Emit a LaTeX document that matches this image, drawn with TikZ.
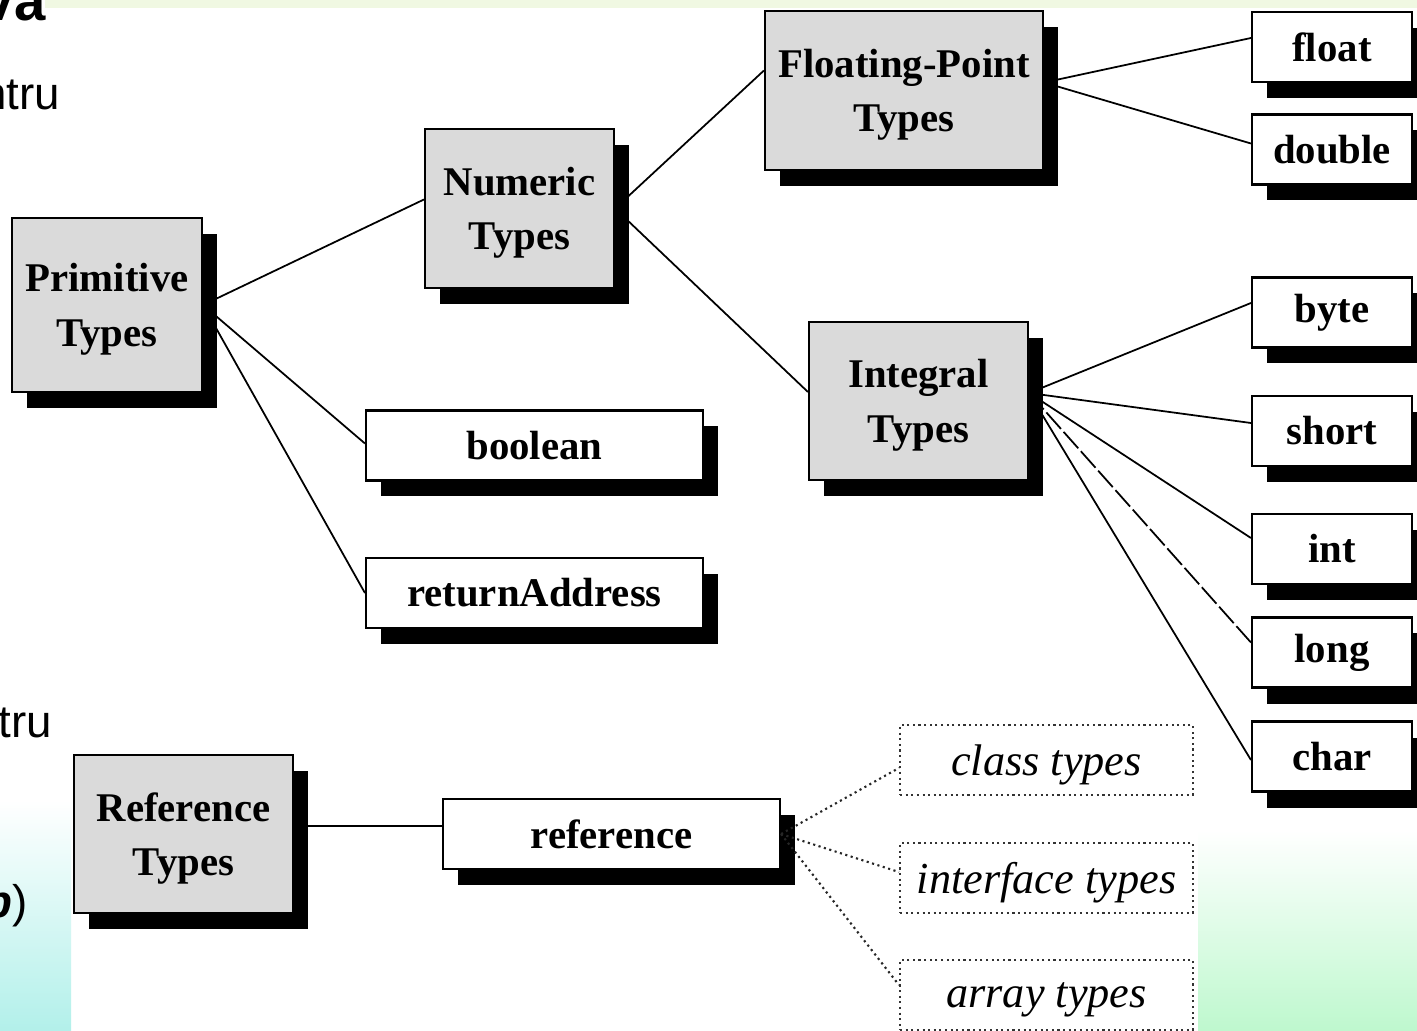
\documentclass[tikz,border=0pt]{standalone}
\usepackage{fontspec}
\setmainfont{Liberation Serif}
\setsansfont{Liberation Sans}
\usepackage{tikz}
\usetikzlibrary{shadows, positioning, calc}
\definecolor{boxgrey}{RGB}{218,218,218}
\definecolor{bandgreen}{RGB}{240,248,226}
\definecolor{cornergreen}{RGB}{190,248,206}
\definecolor{cornercyan}{RGB}{178,240,234}
\tikzset{
  typebox/.style={rectangle, draw=black, fill=boxgrey, line width=0.6pt,
    align=center, inner sep=0pt, text depth=0pt,
    font=\fontsize{11.6}{15.5}\selectfont\bfseries,
    drop shadow={shadow xshift=0.15cm, shadow yshift=-0.16cm, opacity=1, fill=black}},
  leafbox/.style={rectangle, draw=black, fill=white, line width=0.6pt,
    align=center, inner sep=0pt, minimum height=0.70cm,
    font=\fontsize{11.6}{15.5}\selectfont\bfseries,
    drop shadow={shadow xshift=0.15cm, shadow yshift=-0.16cm, opacity=1, fill=black}},
  dotbox/.style={rectangle, draw=black!80, densely dotted, line width=0.6pt,
    fill=white, inner sep=0pt, minimum width=2.93cm, minimum height=0.70cm,
    text depth=0pt, font=\fontsize{12.6}{15}\selectfont\itshape},
  link/.style={line width=0.5pt, color=black},
  dashlink/.style={link, dash pattern=on 0.22cm off 0.04cm},
  dotlink/.style={line width=0.6pt, densely dotted, color=black!85},
  slidetext/.style={anchor=base east, inner sep=0pt,
    font=\sffamily\fontsize{13}{13}\selectfont}
}

\begin{document}
\begin{tikzpicture}
  \useasboundingbox (0,0) rectangle (14.17,-10.31);
  \clip (0,0) rectangle (14.17,-10.31);

  % slide background
  \fill[white] (0,0) rectangle (14.17,-10.31);
  \fill[bandgreen] (0.45,0) rectangle (14.17,-0.08);
  \shade[top color=white, bottom color=cornercyan] (0,-8.0) rectangle (0.71,-10.31);
  \shade[top color=white, bottom color=cornergreen] (11.98,-8.3) rectangle (14.17,-10.31);

  % slide text behind the picture
  \node[slidetext, font=\sffamily\fontsize{16}{16}\selectfont\bfseries] (title) at (0.46,-0.205) {va};
  \node[slidetext] (frag1) at (0.61,-1.10) {ntru};
  \node[slidetext] (frag2) at (0.53,-7.37) {tru};
  \node[slidetext] (frag3) at (0.28,-9.17) {\textbf{\textit{p}})};

  % primitive types
  \node[typebox, minimum width=1.90cm, minimum height=1.74cm] (prim) at (1.07,-3.05) {Primitive\\Types};
  \node[typebox, minimum width=1.89cm, minimum height=1.59cm] (num) at (5.195,-2.085) {Numeric\\Types};
  \node[leafbox, minimum width=3.37cm] (bool) at (5.345,-4.455) {boolean};
  \node[leafbox, minimum width=3.37cm] (retaddr) at (5.345,-5.93) {returnAddress};
  \node[typebox, minimum width=2.78cm, minimum height=1.59cm] (fp) at (9.04,-0.905) {Floating-Point\\Types};
  \node[typebox, minimum width=2.19cm, minimum height=1.58cm] (integ) at (9.185,-4.01) {Integral\\Types};

  % leaf types on the right
  \node[leafbox, minimum width=1.60cm] (float) at (13.32,-0.47) {float};
  \node[leafbox, minimum width=1.60cm] (double) at (13.32,-1.495) {double};
  \node[leafbox, minimum width=1.60cm] (byte) at (13.32,-3.125) {byte};
  \node[leafbox, minimum width=1.60cm] (short) at (13.32,-4.31) {short};
  \node[leafbox, minimum width=1.60cm] (int) at (13.32,-5.49) {int};
  \node[leafbox, minimum width=1.60cm] (long) at (13.32,-6.525) {long};
  \node[leafbox, minimum width=1.60cm] (char) at (13.32,-7.565) {char};

  % reference types
  \node[typebox, minimum width=2.19cm, minimum height=1.58cm] (reft) at (1.835,-8.34) {Reference\\Types};
  \node[leafbox, minimum width=3.37cm] (ref) at (6.115,-8.34) {reference};
  \node[dotbox] (class) at (10.465,-7.60) {class types};
  \node[dotbox] (iface) at (10.465,-8.78) {interface types};
  \node[dotbox] (array) at (10.465,-9.95) {array types};

  % connections
  \draw[link] (prim.east) -- ([yshift=0.09cm]num.west);
  \draw[link] (prim.east) -- ([yshift=0.02cm]bool.west);
  \draw[link] (prim.east) -- ([yshift=0.0cm]retaddr.west);
  \draw[link] (num.east) -- ([yshift=0.2cm]fp.west);
  \draw[link] (num.east) -- ([yshift=0.09cm]integ.west);
  \draw[link] ([yshift=0.08cm]fp.east) -- ([yshift=0.09cm]float.west);
  \draw[link] ([yshift=0.08cm]fp.east) -- ([yshift=0.06cm]double.west);
  \draw[link] ([yshift=0.08cm]integ.east) -- ([yshift=0.095cm]byte.west);
  \draw[link] ([yshift=0.08cm]integ.east) -- ([yshift=0.08cm]short.west);
  \draw[link] ([yshift=0.08cm]integ.east) -- ([yshift=0.11cm]int.west);
  \draw[dashlink] ([yshift=0.08cm]integ.east) -- ([yshift=0.10cm]long.west);
  \draw[link] ([yshift=0.08cm]integ.east) -- ([yshift=-0.035cm]char.west);
  \draw[link] ([yshift=0.08cm]reft.east) -- ([yshift=0.08cm]ref.west);
  \draw[dotlink] (ref.east) -- ([yshift=-0.08cm]class.west);
  \draw[dotlink] (ref.east) -- ([yshift=0.06cm]iface.west);
  \draw[dotlink] (ref.east) -- ([yshift=0.10cm]array.west);
\end{tikzpicture}
\end{document}
